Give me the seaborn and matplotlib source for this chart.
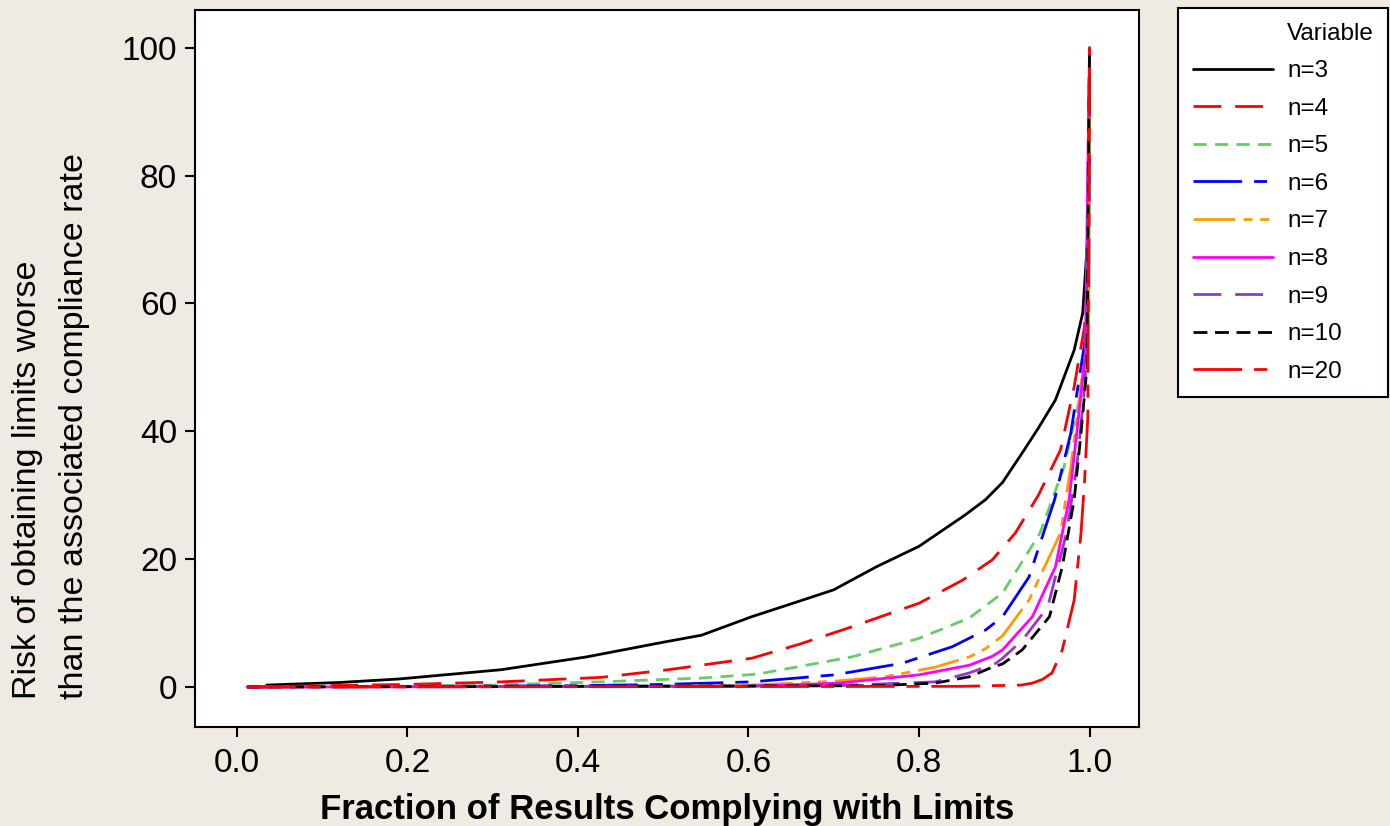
import pandas as pd
import matplotlib
matplotlib.use("Agg")
import matplotlib.pyplot as plt
import seaborn as sns
from matplotlib.lines import Line2D

# ==================================================
#* Dados (fração conforme x risco %)
# ==================================================
x_n3 = [0.035, 0.12, 0.19, 0.31, 0.41, 0.50, 0.545, 0.604, 0.65, 0.70, 0.75, 0.80,
        0.854, 0.878, 0.898, 0.921, 0.94, 0.96, 0.982, 0.992, 0.999, 1.0]
y_n3 = [0.3, 0.7, 1.25, 2.7, 4.7, 7.0, 8.1, 11.0, 13.0, 15.2, 18.8, 22.0,
        26.9, 29.3, 32.0, 36.6, 40.5, 44.9, 52.7, 58.5, 72.6, 100]

x_n4 = [0.012, 0.10, 0.20, 0.31, 0.427, 0.506, 0.604, 0.66, 0.721, 0.80, 0.851,
        0.886, 0.913, 0.94, 0.966, 0.982, 0.994, 0.999, 1.0]
y_n4 = [0.0, 0.2, 0.4, 0.8, 1.5, 2.7, 4.5, 6.7, 9.4, 13.1, 16.7,
        19.9, 24.1, 30.0, 37.1, 47.0, 56.3, 65.0, 100]

x_n5 = [0.012, 0.20, 0.30, 0.427, 0.545, 0.61, 0.721, 0.80, 0.859, 0.898,
        0.942, 0.97, 0.988, 0.999, 1.0]
y_n5 = [0.0, 0.1, 0.3, 0.8, 1.4, 2.0, 4.7, 7.6, 10.8, 14.7,
        24.1, 34.4, 44.9, 57.9, 100]

x_n6 = [0.012, 0.40, 0.50, 0.604, 0.701, 0.78, 0.839, 0.878, 0.898, 0.929,
        0.959, 0.978, 0.99, 0.999, 1.0]
y_n6 = [0.0, 0.2, 0.4, 0.8, 1.9, 3.7, 6.3, 8.9, 11.0, 17.2,
        29.3, 39.7, 50.1, 57.9, 100]

x_n7 = [0.012, 0.50, 0.604, 0.70, 0.76, 0.819, 0.859, 0.878, 0.898, 0.929,
        0.966, 0.978, 0.988, 0.999, 1.0]
y_n7 = [0.0, 0.1, 0.3, 0.9, 1.6, 3.1, 4.7, 6.0, 8.0, 13.6,
        24.1, 34.4, 44.9, 56.0, 100]

x_n8 = [0.012, 0.60, 0.705, 0.80, 0.859, 0.886, 0.898, 0.933, 0.96, 0.976,
        0.985, 0.995, 1.0]
y_n8 = [0.0, 0.1, 0.6, 1.9, 3.4, 4.8, 5.8, 11.0, 18.8, 29.3,
        39.7, 52.0, 100]

x_n9 = [0.012, 0.70, 0.819, 0.859, 0.89, 0.898, 0.921, 0.951, 0.973, 0.985,
        0.995, 1.0]
y_n9 = [0.0, 0.2, 0.8, 2.2, 3.7, 4.5, 7.3, 12.5, 24.1, 34.4,
        48.0, 100]

x_n10 = [0.012, 0.75, 0.819, 0.859, 0.886, 0.898, 0.921, 0.953, 0.968, 0.982,
         0.99, 0.997, 1.0]
y_n10 = [0.0, 0.2, 0.6, 1.6, 3.1, 3.6, 5.8, 11.0, 18.8, 29.3,
         39.7, 50.0, 100]

x_n20 = [0.012, 0.85, 0.92, 0.933, 0.945, 0.956, 0.968, 0.982, 0.99, 0.994,
         0.998, 1.0]
y_n20 = [0.0, 0.1, 0.3, 0.6, 1.2, 2.2, 5.8, 13.6, 24.1, 31.9,
         42.3, 100]

series = ["n=3", "n=4", "n=5", "n=6", "n=7", "n=8", "n=9", "n=10", "n=20"]
xs = [x_n3, x_n4, x_n5, x_n6, x_n7, x_n8, x_n9, x_n10, x_n20]
ys = [y_n3, y_n4, y_n5, y_n6, y_n7, y_n8, y_n9, y_n10, y_n20]

# ==================================================
#* Estilo (cores e tracejados estilo Minitab)
# ==================================================
cores = {
    "n=3": "#000000", "n=4": "#FF0000", "n=5": "#66CC66",
    "n=6": "#0000FF", "n=7": "#FF9900", "n=8": "#FF00FF",
    "n=9": "#9933CC", "n=10": "#000000", "n=20": "#FF0000",
}
tracos = {
    "n=3": "", "n=4": (20, 10), "n=5": (9.5, 6),
    "n=6": (35, 8.6, 9.4, 8.6), "n=7": (30, 6, 6.5, 5.5, 6.5, 6),
    "n=8": "", "n=9": (20, 10), "n=10": (10, 5.5),
    "n=20": (35, 8.6, 9.4, 8.6),
}
espessura = 2.0

df = pd.concat(
    [pd.DataFrame({"Fracao": x, "Risco": y, "Variable": s})
     for s, x, y in zip(series, xs, ys)],
    ignore_index=True,
)

sns.set_theme(style="ticks")
plt.rcParams["font.family"] = ["Liberation Sans", "DejaVu Sans"]
plt.rcParams["lines.scale_dashes"] = False

fundo = "#EFEBE2"
fig = plt.figure(figsize=(13.9, 8.26), dpi=100, facecolor=fundo)
ax = fig.add_axes([195 / 1390, 1 - 727 / 826, 944 / 1390, 717 / 826])
ax.set_facecolor("white")

sns.lineplot(
    data=df, x="Fracao", y="Risco",
    hue="Variable", style="Variable",
    palette=cores, dashes=tracos,
    estimator=None, sort=False, linewidth=espessura,
    legend=False, ax=ax,
)

ax.set_xlim(-0.049, 1.058)
ax.set_ylim(-6.26, 105.9)
ax.set_xticks([0.0, 0.2, 0.4, 0.6, 0.8, 1.0])
ax.set_xticklabels(["0.0", "0.2", "0.4", "0.6", "0.8", "1.0"])
ax.set_yticks([0, 20, 40, 60, 80, 100])
ax.tick_params(axis="both", labelsize=24, length=7, width=1.5, color="black",
               labelcolor="black")
ax.tick_params(axis="x", pad=8)
ax.tick_params(axis="y", pad=6)
for sp in ax.spines.values():
    sp.set_visible(True)
    sp.set_color("black")
    sp.set_linewidth(1.5)

ax.set_xlabel("Fraction of Results Complying with Limits", fontsize=25,
              fontweight="bold", labelpad=10, color="black")
ax.set_ylabel("")
fig.text(51 / 1390, 1 - 699 / 826,
         "Risk of obtaining limits worse\nthan the associated compliance rate",
         rotation=90, ha="center", va="bottom", multialignment="left",
         fontsize=24.5, linespacing=1.65, color="black")

# ==================================================
#* Legenda
# ==================================================
handles = [Line2D([], [], linestyle="none")]
labels = ["Variable"]
for s in series:
    h = Line2D([], [], color=cores[s], linewidth=espessura)
    if tracos[s]:
        h.set_dashes(tracos[s])
    handles.append(h)
    labels.append(s)

leg = fig.legend(
    handles, labels,
    loc="upper left",
    bbox_to_anchor=(1178 / 1390, 1 - 8 / 826, 210 / 1390, 0.0),
    mode="expand", borderaxespad=0,
    fontsize=17.5, handlelength=3.3, handletextpad=0.6,
    labelspacing=0.64, borderpad=0.6,
    fancybox=False, framealpha=1, edgecolor="black", facecolor="white",
)
leg.get_frame().set_linewidth(1.5)
for t in leg.get_texts():
    t.set_color("black")

fig.savefig("out.png", dpi=100, facecolor=fundo)
